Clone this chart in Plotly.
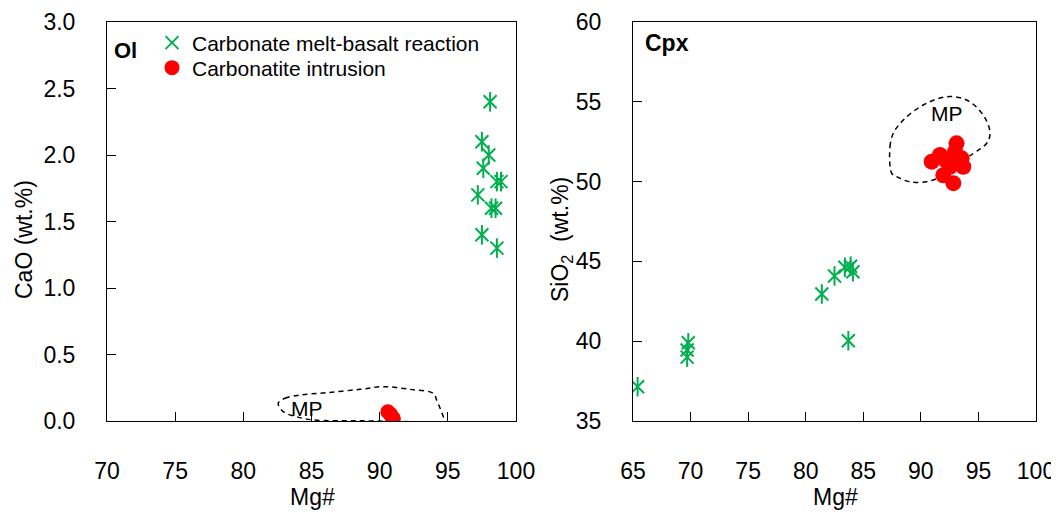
import plotly.graph_objects as go

# ---------------- data ----------------
# Ol panel
ol_reac_mg = [98.1, 97.5, 98.0, 97.6, 98.6, 98.9, 97.2, 98.2, 98.5, 97.5, 98.6]
ol_reac_cao = [2.40, 2.10, 2.00, 1.90, 1.80, 1.80, 1.70, 1.60, 1.60, 1.40, 1.30]
ol_intr_mg = [90.6, 90.8, 90.9, 91.0]
ol_intr_cao = [0.07, 0.05, 0.03, 0.02]
ol_mp_mg = [82.56, 83.06, 84.16, 86.11, 88.56, 90.27, 92.22, 93.93, 94.18, 94.67, 94.79,
            92.47, 88.56, 85.13, 83.91, 82.93, 82.56]
ol_mp_cao = [0.133, 0.171, 0.195, 0.213, 0.238, 0.258, 0.238, 0.208, 0.158, 0.032, -0.005,
             -0.005, 0.002, 0.008, 0.032, 0.070, 0.133]

# Cpx panel
cpx_reac_mg = [65.4, 69.8, 69.7, 69.7, 81.4, 82.5, 83.4, 83.9, 84.1, 83.7]
cpx_reac_si = [37.15, 39.9, 39.45, 39.0, 42.96, 44.09, 44.63, 44.7, 44.35, 40.03]
cpx_intr_mg = [93.1, 90.94, 92.82, 93.54, 91.95, 91.66, 92.53, 93.68, 92.97, 92.2, 93.3]
cpx_intr_si = [52.4, 51.25, 49.9, 51.46, 50.4, 51.67, 50.93, 50.93, 51.87, 51.3, 51.2]
cpx_mp_mg = [87.47, 87.32, 87.61, 88.48, 90.21, 92.24, 93.98, 95.42, 96.01, 95.72, 94.56,
             91.08, 89.06, 87.90, 87.47]
cpx_mp_si = [50.52, 52.19, 53.03, 53.86, 54.80, 55.32, 55.11, 54.17, 53.03, 52.40, 51.77,
             50.10, 49.99, 50.31, 50.52]

ol_xticks = [70, 75, 80, 85, 90, 95, 100]
ol_yticks = [0.0, 0.5, 1.0, 1.5, 2.0, 2.5, 3.0]
cpx_xticks = [65, 70, 75, 80, 85, 90, 95, 100]
cpx_yticks = [35, 40, 45, 50, 55, 60]

GREEN = "#00B050"
RED = "#FF0000"
FONT = "Arial, Liberation Sans, sans-serif"
OFF = 8  # page body margin
W, H = 1059 - OFF, 518 - OFF

fig = go.Figure()

def px_x(p):
    return (p - OFF) / W

def px_y(p):
    return 1 - (p - OFF) / H

DASH = "5px,4px"
# MP fields
fig.add_trace(go.Scatter(x=ol_mp_mg, y=ol_mp_cao, mode="lines", xaxis="x", yaxis="y",
                         line=dict(color="black", width=1.5, dash=DASH, shape="spline"),
                         showlegend=False, hoverinfo="skip"))
fig.add_trace(go.Scatter(x=cpx_mp_mg, y=cpx_mp_si, mode="lines", xaxis="x2", yaxis="y2",
                         line=dict(color="black", width=1.5, dash=DASH, shape="spline"),
                         showlegend=False, hoverinfo="skip"))

# reaction asterisks (x + vertical line)
for xs, ys, xa, ya, leg in [(ol_reac_mg, ol_reac_cao, "x", "y", True),
                            (cpx_reac_mg, cpx_reac_si, "x2", "y2", False)]:
    fig.add_trace(go.Scatter(x=xs, y=ys, mode="markers", xaxis=xa, yaxis=ya,
                             name="Carbonate melt-basalt reaction", showlegend=leg,
                             legend="legend",
                             marker=dict(symbol="x-thin-open", size=13, color=GREEN,
                                         line=dict(color=GREEN, width=2))))
    fig.add_trace(go.Scatter(x=xs, y=ys, mode="markers", xaxis=xa, yaxis=ya,
                             showlegend=False, hoverinfo="skip",
                             marker=dict(symbol="line-ns-open", size=14, color=GREEN,
                                         line=dict(color=GREEN, width=2))))

fig.add_trace(go.Scatter(x=ol_intr_mg, y=ol_intr_cao, mode="markers", xaxis="x", yaxis="y",
                         name="Carbonatite intrusion", legend="legend2",
                         marker=dict(symbol="circle", size=15, color=RED)))
fig.add_trace(go.Scatter(x=cpx_intr_mg, y=cpx_intr_si, mode="markers", xaxis="x2", yaxis="y2",
                         showlegend=False,
                         marker=dict(symbol="circle", size=16, color=RED)))

axis_common = dict(showline=True, linecolor="black", linewidth=1, mirror=True,
                   ticks="inside", ticklen=9, tickcolor="black", tickwidth=1,
                   showgrid=False, zeroline=False,
                   tickfont=dict(family=FONT, size=23, color="black"))

legend_common = dict(xanchor="left", yanchor="middle", bgcolor="rgba(0,0,0,0)",
                     font=dict(family=FONT, size=21, color="black"), itemwidth=30,
                     borderwidth=0)

fig.update_layout(
    width=W, height=H,
    margin=dict(l=0, r=0, t=0, b=0, autoexpand=False),
    paper_bgcolor="white", plot_bgcolor="white",
    font=dict(family=FONT, color="black"),
    xaxis=dict(domain=[px_x(107), px_x(516)], range=[70, 100], tickvals=ol_xticks,
               anchor="y", ticklabelstandoff=29, **axis_common),
    yaxis=dict(domain=[px_y(421), px_y(22)], range=[0, 3], tickvals=ol_yticks,
               tickformat=".1f", anchor="x", ticklabelstandoff=26, **axis_common),
    xaxis2=dict(domain=[px_x(633), px_x(1036)], range=[65, 100], tickvals=cpx_xticks,
                anchor="y2", ticklabelstandoff=29, **axis_common),
    yaxis2=dict(domain=[px_y(421), px_y(22)], range=[35, 60], tickvals=cpx_yticks,
                anchor="x2", ticklabelstandoff=26, **axis_common),
    legend=dict(x=px_x(152), y=px_y(43), **legend_common),
    legend2=dict(x=px_x(152), y=px_y(68), **legend_common),
    showlegend=True,
)

annotations = [
    dict(text="<b>Ol</b>", x=px_x(112), y=px_y(50), xanchor="left", yanchor="middle",
         font=dict(size=22)),
    dict(text="<b>Cpx</b>", x=px_x(643), y=px_y(43), xanchor="left", yanchor="middle",
         font=dict(size=23)),
    dict(text="Mg#", x=px_x(312), y=px_y(497), xanchor="center", yanchor="middle",
         font=dict(size=23)),
    dict(text="Mg#", x=px_x(835), y=px_y(497), xanchor="center", yanchor="middle",
         font=dict(size=23)),
    dict(text="CaO (wt.%)", x=px_x(24), y=px_y(240), xanchor="center", yanchor="middle",
         textangle=-90, font=dict(size=23)),
    dict(text="SiO<sub>2</sub>  (wt.%)", x=px_x(562), y=px_y(240), xanchor="center",
         yanchor="middle", textangle=-90, font=dict(size=23)),
    dict(text="MP", x=84.65, y=0.095, xref="x", yref="y", xanchor="center",
         yanchor="middle", font=dict(size=21)),
    dict(text="MP", x=92.24, y=54.28, xref="x2", yref="y2", xanchor="center",
         yanchor="middle", font=dict(size=21)),
]
for a in annotations:
    a.setdefault("xref", "paper")
    a.setdefault("yref", "paper")
    a["showarrow"] = False
    a["font"]["family"] = FONT
    a["font"]["color"] = "black"
fig.update_layout(annotations=annotations)

fig.write_html("out.html")
